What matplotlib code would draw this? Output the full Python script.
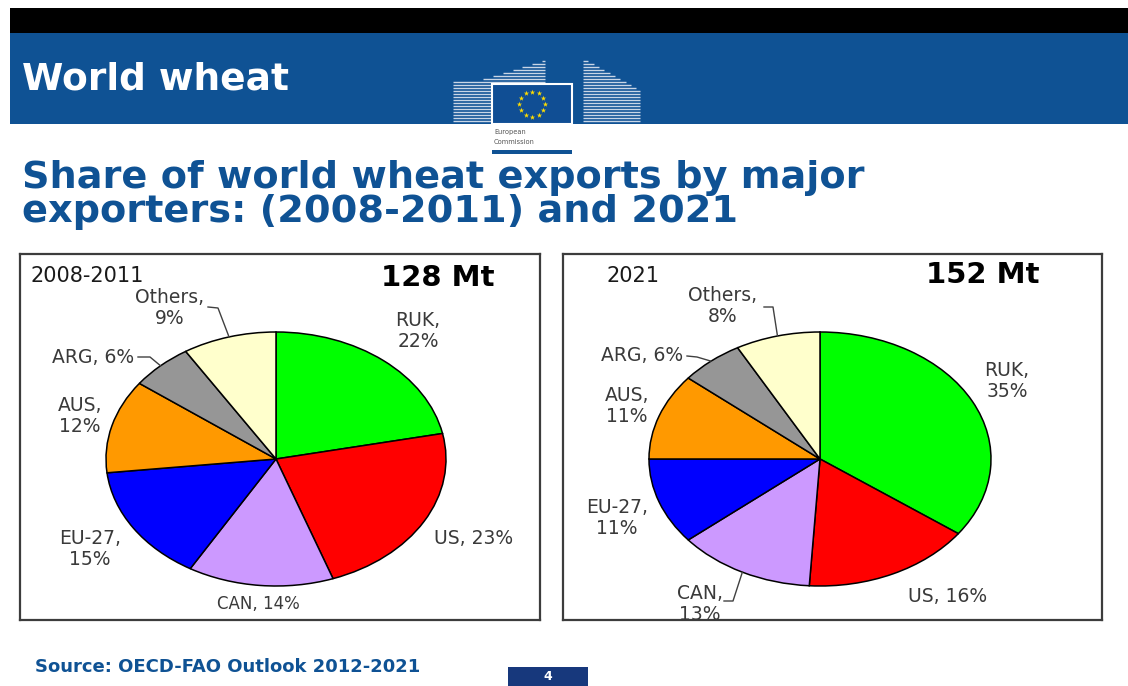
import matplotlib
matplotlib.use("Agg")
import matplotlib.pyplot as plt
from matplotlib.patches import Rectangle
import numpy as np

W, H = 1128, 686

# Export shares (%) by major exporter
exporters = ["RUK", "US", "CAN", "EU-27", "AUS", "ARG", "Others"]
share_2008_2011 = [22, 23, 14, 15, 12, 6, 9]
share_2021 = [35, 16, 13, 11, 11, 6, 8]
slice_colors = ["#00FF00", "#FF0000", "#CC99FF", "#0000FF", "#FF9900", "#969696", "#FFFFCC"]
panel_titles = ["2008-2011", "2021"]
panel_totals = ["128 Mt", "152 Mt"]

EC_BLUE = "#0F5294"
LABEL_GREY = "#3a3a3a"

fig = plt.figure(figsize=(W / 100, H / 100), dpi=100)
fig.patch.set_facecolor("white")

# Page-level canvas in pixel coordinates (y downwards)
bg = fig.add_axes([0, 0, 1, 1])
bg.set_xlim(0, W)
bg.set_ylim(H, 0)
bg.axis("off")

# Header bars
bg.add_patch(Rectangle((10, 8), W - 10, 25, color="black", lw=0))
bg.add_patch(Rectangle((10, 33), W - 10, 91, color=EC_BLUE, lw=0))
bg.text(22, 79, "World wheat", color="white", fontsize=27, fontweight="bold",
        ha="left", va="center", family="DejaVu Sans")

# European Commission logo (stylised building + flag)
stripe = "#c9d6e6"
for y in np.arange(61, 123, 3.0):
    if y < 80:
        x_start = 545 - (y - 60) * 65 / 20
    else:
        x_start = 453
    bg.plot([x_start, 545], [y, y], color=stripe, lw=1.0, solid_capstyle="butt", zorder=2)
for y in np.arange(61, 123, 3.0):
    x_end = min(640, 583 + (y - 58) * 57 / 32)
    bg.plot([583, x_end], [y, y], color=stripe, lw=1.0, solid_capstyle="butt", zorder=2)
bg.add_patch(Rectangle((490, 124), 84, 32, color="white", lw=0, zorder=3))
bg.add_patch(Rectangle((492, 84), 80, 40, facecolor="#104E94", edgecolor="white",
                       lw=1.5, zorder=4))
ang = np.linspace(0, 2 * np.pi, 13)[:-1]
bg.scatter(532 + 13 * np.cos(ang), 104 + 12.5 * np.sin(ang), marker="*", s=16,
           color="#FFDD00", lw=0, zorder=5)
bg.text(494, 132, "European", fontsize=4.8, color="#555555", ha="left", va="center", zorder=5)
bg.text(494, 142, "Commission", fontsize=4.8, color="#555555", ha="left", va="center", zorder=5)
bg.add_patch(Rectangle((492, 150), 80, 4, color=EC_BLUE, lw=0, zorder=5))

# Slide heading
bg.text(22, 188, "Share of world wheat exports by major", color=EC_BLUE, fontsize=27.5,
        fontweight="bold", ha="left", va="baseline")
bg.text(22, 222, "exporters: (2008-2011) and 2021", color=EC_BLUE, fontsize=27.5,
        fontweight="bold", ha="left", va="baseline")

# Footer
bg.text(35, 667, "Source: OECD-FAO Outlook 2012-2021", color=EC_BLUE, fontsize=13,
        fontweight="bold", ha="left", va="center")
bg.add_patch(Rectangle((508, 667), 80, 20, color="#17387C", lw=0))
bg.text(548, 677, "4", color="white", fontsize=9, fontweight="bold", ha="center", va="center")


def draw_panel(box, center, radii, values, title, title_xy, total, total_xy, layout, leaders):
    x0, y0, x1, y1 = box
    cx, cy = center
    rx, ry = radii
    ax = fig.add_axes([x0 / W, 1 - y1 / H, (x1 - x0) / W, (y1 - y0) / H])
    wedges, _ = ax.pie(values, colors=slice_colors, startangle=90, counterclock=False,
                       wedgeprops=dict(edgecolor="black", linewidth=1.1))
    ax.set_aspect("auto")
    ax.set_xlim((x0 - cx) / rx, (x1 - cx) / rx)
    ax.set_ylim((cy - y1) / ry, (cy - y0) / ry)
    ax.set_frame_on(True)
    ax.set_xticks([])
    ax.set_yticks([])
    for sp in ax.spines.values():
        sp.set_color("#3c3c3c")
        sp.set_linewidth(1.6)

    def to_data(px, py):
        return (px - cx) / rx, (cy - py) / ry

    ax.text(*to_data(*title_xy), title, fontsize=15, color="#1a1a1a", ha="left", va="center")
    ax.text(*to_data(*total_xy), total, fontsize=21, fontweight="bold", color="black",
            ha="center", va="center")

    for name, val, wedge in zip(exporters, values, wedges):
        px, py, lines, fs = layout[name]
        label = f"{name},\n{val}%" if lines == 2 else f"{name}, {val}%"
        ax.text(*to_data(px, py), label, fontsize=fs, color=LABEL_GREY, ha="center",
                va="center", multialignment="center", linespacing=1.1, clip_on=True)
        if name in leaders:
            mid = np.deg2rad((wedge.theta1 + wedge.theta2) / 2)
            pts = [to_data(*p) for p in leaders[name]] + [(np.cos(mid), np.sin(mid))]
            xs, ys = zip(*pts)
            ax.plot(xs, ys, color="#404040", lw=1.0)
    return ax


left_layout = {
    "RUK": (418, 331, 2, 13.5),
    "US": (474, 538, 1, 13.5),
    "CAN": (258, 604, 1, 12),
    "EU-27": (90, 549, 2, 13.5),
    "AUS": (80, 416, 2, 13.5),
    "ARG": (93, 358, 1, 13.5),
    "Others": (170, 308, 2, 13.5),
}
left_leaders = {
    "Others": [(208, 307), (218, 308)],
    "ARG": [(138, 357), (150, 357)],
}
draw_panel((20, 254, 540, 620), (276, 459), (170, 127), share_2008_2011,
           panel_titles[0], (30, 276), panel_totals[0], (438, 278), left_layout, left_leaders)

right_layout = {
    "RUK": (1007, 381, 2, 13.5),
    "US": (948, 596, 1, 13.5),
    "CAN": (700, 604, 2, 13.5),
    "EU-27": (617, 518, 2, 13.5),
    "AUS": (627, 406, 2, 13.5),
    "ARG": (642, 356, 1, 13.5),
    "Others": (723, 306, 2, 13.5),
}
right_leaders = {
    "Others": [(764, 307), (773, 307)],
    "ARG": [(687, 356), (697, 357)],
    "CAN": [(724, 601), (733, 601)],
}
draw_panel((563, 254, 1102, 620), (820, 459), (171, 127), share_2021,
           panel_titles[1], (607, 276), panel_totals[1], (983, 275), right_layout, right_leaders)

fig.savefig("out.png", dpi=100)
